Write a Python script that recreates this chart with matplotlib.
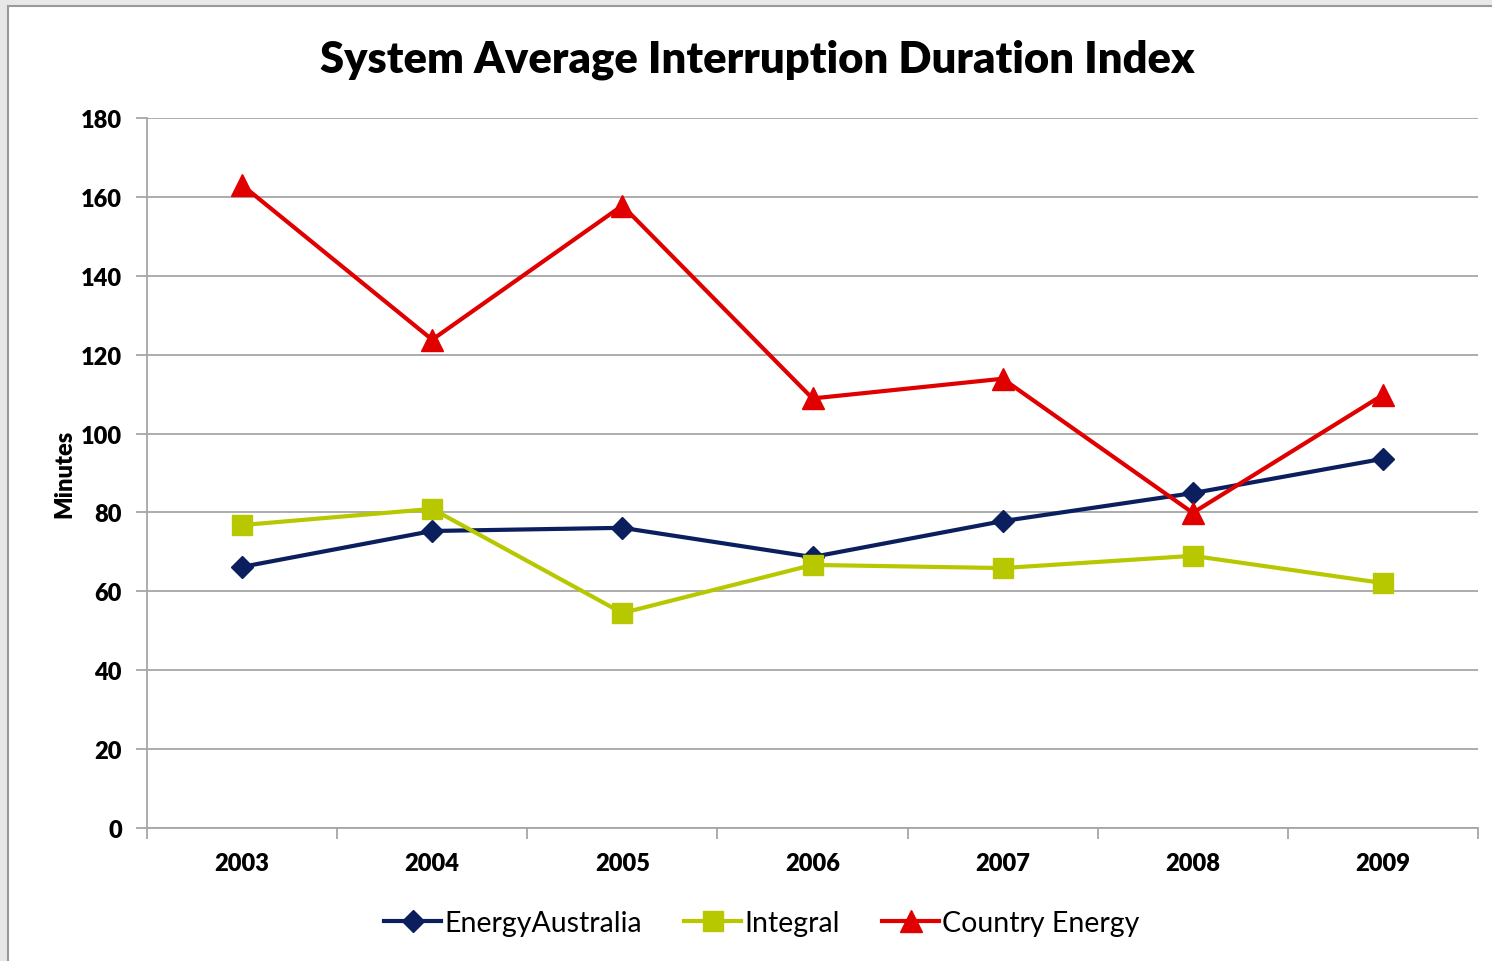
import matplotlib
matplotlib.use("Agg")
import matplotlib.pyplot as plt
from matplotlib.patches import Rectangle
from matplotlib.lines import Line2D

years = ["2003", "2004", "2005", "2006", "2007", "2008", "2009"]
energy_australia = [66.2, 75.3, 76.1, 68.7, 77.8, 84.9, 93.6]
integral = [76.8, 80.9, 54.5, 66.7, 65.9, 69.0, 62.1]
country_energy = [163.0, 123.8, 157.8, 108.9, 113.9, 79.9, 109.8]

NAVY = "#0b1f5e"
LIME = "#b8c800"
RED = "#e00000"
GRID = "#a6a6a6"

plt.rcParams["font.family"] = ["Lato", "DejaVu Sans"]

fig = plt.figure(figsize=(14.92, 9.62), dpi=100)
fig.patch.set_facecolor("#e8e8e8")
# white chart panel with gray border on left/top
fig.add_artist(Rectangle((8 / 1492, -0.01), 1.0, 1 - 7 / 962 + 0.01,
                         transform=fig.transFigure, facecolor="white",
                         edgecolor="#9a9a9a", lw=1.5, zorder=0))

ax = fig.add_axes([147 / 1492, 133 / 962, 1331 / 1492, 710 / 962])
ax.set_facecolor("none")
x = list(range(len(years)))

ax.plot(x, energy_australia, color=NAVY, lw=3, marker="D", ms=11,
        label="EnergyAustralia", zorder=3)
ax.plot(x, integral, color=LIME, lw=3, marker="s", ms=14,
        label="Integral", zorder=3)
ax.plot(x, country_energy, color=RED, lw=3, marker="^", ms=16,
        label="Country Energy", zorder=4)

ax.set_xlim(-0.5, len(years) - 0.5)
ax.set_ylim(0, 180)
ax.set_yticks(range(0, 181, 20))
ax.yaxis.grid(True, color=GRID, lw=1.3)
ax.set_axisbelow(True)

# category boundaries get the ticks, labels sit in between
ax.set_xticks([i - 0.5 for i in range(len(years) + 1)], minor=False)
ax.set_xticklabels([])
ax.set_xticks(x, minor=True)
ax.set_xticklabels(years, minor=True, fontsize=17, fontweight="heavy")
ax.tick_params(axis="x", which="minor", length=0, pad=17)
ax.tick_params(axis="x", which="major", length=8, width=1.3, color=GRID,
               direction="out")
ax.tick_params(axis="y", length=8, width=1.3, color=GRID, direction="out",
               labelsize=17, pad=10)
for lab in ax.get_yticklabels():
    lab.set_fontweight("heavy")

for s in ("top", "right"):
    ax.spines[s].set_visible(False)
for s in ("left", "bottom"):
    ax.spines[s].set_color(GRID)
    ax.spines[s].set_linewidth(1.3)

ax.set_ylabel("Minutes", fontsize=17, fontweight="heavy", labelpad=4)

fig.text(757 / 1492, 1 - 60 / 962, "System Average Interruption Duration Index",
         ha="center", va="center", fontsize=31.3, fontweight="heavy")

handles = [
    Line2D([], [], color=NAVY, lw=3, marker="D", ms=11),
    Line2D([], [], color=LIME, lw=3, marker="s", ms=14),
    Line2D([], [], color=RED, lw=3, marker="^", ms=16),
]
fig.legend(handles, ["EnergyAustralia", "Integral", "Country Energy"],
           loc="center", bbox_to_anchor=(762 / 1492, 1 - 924 / 962),
           ncol=3, frameon=False, fontsize=20.5, handlelength=2.0,
           handletextpad=0.1, columnspacing=1.5)

fig.savefig("out.png", dpi=100, facecolor=fig.get_facecolor())
